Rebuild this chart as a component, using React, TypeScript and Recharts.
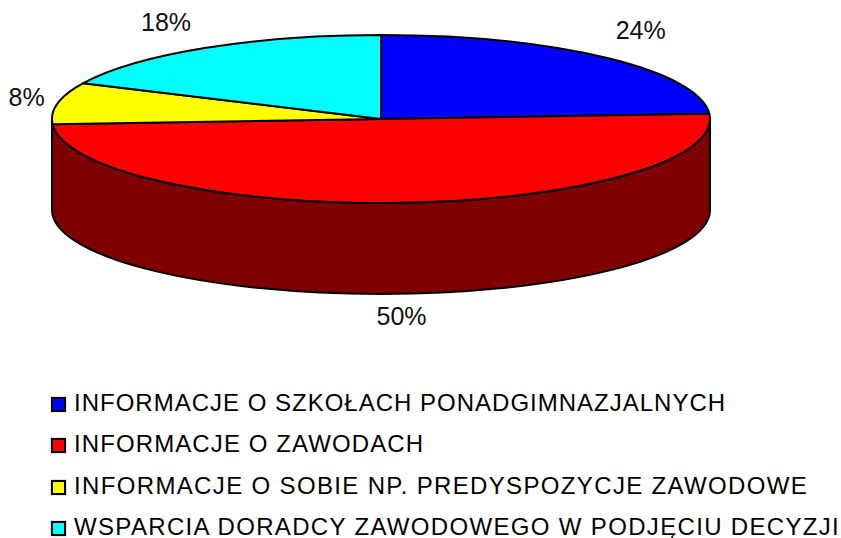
import React from "react";
import { PieChart, Pie, Legend } from "recharts";

const categories = [
  "INFORMACJE O SZKOŁACH PONADGIMNAZJALNYCH",
  "INFORMACJE O ZAWODACH",
  "INFORMACJE O SOBIE NP. PREDYSPOZYCJE ZAWODOWE",
  "WSPARCIA DORADCY ZAWODOWEGO W PODJĘCIU DECYZJI",
];
const values = [24, 50, 8, 18];
const colors = ["#0000ff", "#ff0000", "#ffff00", "#00ffff"];
const wallColors = ["#00007f", "#7f0000", "#7f7f00", "#007f7f"];
const labelNudges = [[3, -4], [-3, 0], [14, 0], [-14, 1]];
const legendSpacing = [1.0, 1.1, 1.35, 1.33];

const table = categories.map((name, i) => ({ name, value: values[i], fill: colors[i], wall: wallColors[i] }));

const WIDTH = 841;
const HEIGHT = 538;
const SQUASH = 84 / 329;
const DEPTH = 91;
const FONT = "'Liberation Sans', Arial, sans-serif";
const RAD = Math.PI / 180;

function pt(cx: number, cy: number, r: number, deg: number, dy = 0) {
  return { x: cx + r * Math.cos(deg * RAD), y: cy - r * SQUASH * Math.sin(deg * RAD) + dy };
}

function Slice(props: any) {
  const { cx, cy, outerRadius: r, startAngle, endAngle, index } = props;
  const fill = table[index].fill;
  const wall = table[index].wall;
  const ry = r * SQUASH;
  const hi = Math.max(startAngle, endAngle);
  const lo = Math.min(startAngle, endAngle);
  const a = pt(cx, cy, r, hi);
  const b = pt(cx, cy, r, lo);
  const large = hi - lo > 180 ? 1 : 0;
  const top = `M${cx},${cy} L${a.x},${a.y} A${r},${ry} 0 ${large} 1 ${b.x},${b.y} Z`;

  // Side wall: the visible part of this slice's rim, in the front half of the ellipse.
  let wallPath = "";
  const wHi = Math.min(hi, 0);
  let wLo = Math.max(lo, -180);
  if (wLo > -180 && wLo - -180 < 5) wLo = -180;
  if (wHi - wLo > 5) {
    const p = pt(cx, cy, r, wHi);
    const q = pt(cx, cy, r, wLo);
    const p2 = pt(cx, cy, r, wHi, DEPTH);
    const q2 = pt(cx, cy, r, wLo, DEPTH);
    wallPath = `M${p.x},${p.y} A${r},${ry} 0 0 1 ${q.x},${q.y} L${q2.x},${q2.y} A${r},${ry} 0 0 0 ${p2.x},${p2.y} Z`;
  }
  return (
    <g>
      {wallPath && <path d={wallPath} fill={wall} stroke="#000" strokeWidth={2} strokeLinejoin="round" />}
      <path d={top} fill={fill} stroke="#000" strokeWidth={2} strokeLinejoin="round" />
    </g>
  );
}

function SliceLabel(props: any) {
  const { cx, cy, outerRadius: r, midAngle, index, value } = props;
  const up = Math.sin(midAngle * RAD) >= 0;
  const x = cx + (r + 46) * Math.cos(midAngle * RAD) + labelNudges[index][0];
  const y = cy - (r * SQUASH + (up ? 32 : 22)) * Math.sin(midAngle * RAD) + (up ? 0 : DEPTH) + labelNudges[index][1];
  return (
    <text x={x} y={y} textAnchor="middle" dominantBaseline="central" fontFamily={FONT} fontSize={25} fill="#111">
      {`${value}%`}
    </text>
  );
}

function LegendList(props: any) {
  const items = (props.payload || []) as any[];
  return (
    <div style={{ fontFamily: FONT, fontSize: 24, color: "#000", whiteSpace: "nowrap" }}>
      {items.map((it, i) => (
        <div key={i} style={{ height: 41.5, display: "flex", alignItems: "center" }}>
          <span
            style={{
              display: "inline-block",
              boxSizing: "border-box",
              width: 15,
              height: 15,
              marginRight: 8,
              marginTop: 3,
              background: it.color,
              border: "2px solid #000",
              boxShadow: "0 0 1px #666",
            }}
          />
          <span style={{ letterSpacing: legendSpacing[i], lineHeight: "20px", height: 20 }}>{it.value}</span>
        </div>
      ))}
    </div>
  );
}

export default function App() {
  return (
    <div style={{ position: "absolute", left: 0, top: 0, width: WIDTH, height: HEIGHT, overflow: "hidden", background: "#fff" }}>
      <PieChart width={WIDTH} height={HEIGHT} margin={{ top: 0, right: 0, bottom: 0, left: 0 }}>
        <Pie
          data={table}
          dataKey="value"
          nameKey="name"
          cx={381}
          cy={119}
          innerRadius={0}
          outerRadius={329}
          startAngle={90}
          endAngle={-270}
          paddingAngle={0}
          isAnimationActive={false}
          shape={Slice}
          label={SliceLabel}
          labelLine={false}
        />
        <Legend
          layout="vertical"
          itemSorter={null}
          content={LegendList}
          wrapperStyle={{ position: "absolute", left: 51, top: 382, bottom: "auto", width: 790 }}
        />
      </PieChart>
    </div>
  );
}
